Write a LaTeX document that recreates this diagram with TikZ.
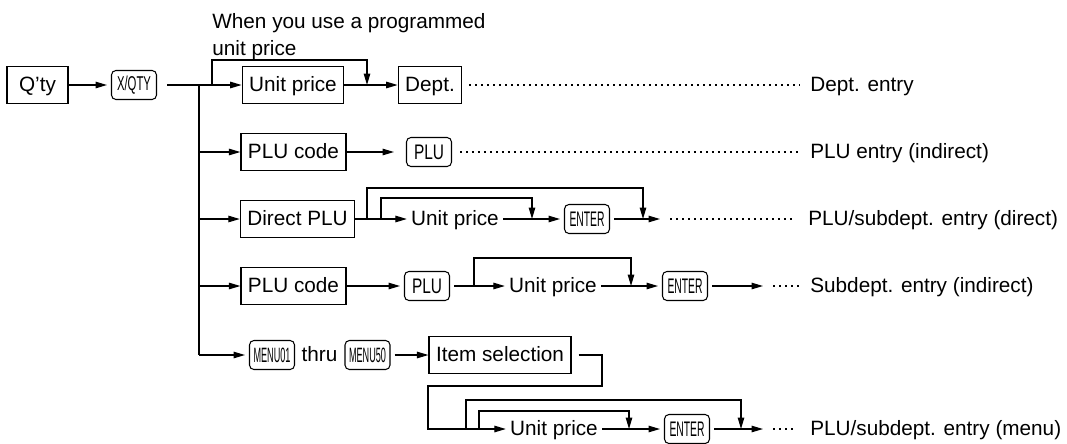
\documentclass[tikz,border=0pt]{standalone}
\usepackage{fontspec}
\setmainfont{Liberation Sans}
\usetikzlibrary{arrows.meta}
\newcommand{\keytext}[2][0.68cm]{\resizebox{#1}{0.29cm}{#2}}
\tikzset{
  box/.style={draw, line width=0.7pt, minimum height=0.74cm, inner xsep=0.14cm, text height=0.72em, text depth=0pt},
  keycap/.style={draw, line width=0.6pt, rounded corners=2.5pt, minimum width=0.9cm, minimum height=0.58cm, inner sep=1pt, outer sep=0.09cm},
  plain/.style={inner sep=0.08cm, text height=0.72em, text depth=0pt},
  result/.style={anchor=west, inner sep=0pt, text height=0.72em, text depth=0pt},
  note/.style={align=left, inner sep=0pt},
  link/.style={line width=0.7pt},
  flow/.style={line width=0.7pt, -{Triangle[length=0.23cm,width=0.13cm]}},
  dots/.style={line width=0.8pt, dash pattern=on 1.1pt off 2.314pt}
}

\begin{document}
\begin{tikzpicture}[x=0.02cm, y=-0.02cm, font=\fontsize{11.8}{15.4}\selectfont]
    \useasboundingbox (0,0) rectangle (1067,443);

    \node[note, anchor=north west] (when) at (212,13) {When you use a programmed\\unit price};

    \node[box, minimum width=1.22cm] (qty) at (37.5,85) {Q’ty};
    \node[keycap] (xqty) at (134,85) {\keytext{X/QTY}};
    \node[box] (uprice1) at (293,85) {Unit price};
    \node[box] (dept) at (430,85) {Dept.};
    \node[result] (res1) at (810,85) {Dept. entry};

    \node[box] (plucode2) at (293.5,152) {PLU code};
    \node[keycap] (plu2) at (429,152) {\keytext[0.6cm]{PLU}};
    \node[result] (res2) at (810,152) {PLU entry (indirect)};

    \node[box] (direct3) at (297.5,219) {Direct PLU};
    \node[plain] (uprice3) at (455,219) {Unit price};
    \node[keycap] (enter3) at (587,219) {\keytext[0.7cm]{ENTER}};
    \coordinate (end3) at (660,219);
    \node[result] (res3) at (808,219) {PLU/subdept. entry (direct)};

    \node[box] (plucode4) at (293.5,286) {PLU code};
    \node[keycap] (plu4) at (427,286) {\keytext[0.6cm]{PLU}};
    \node[plain] (uprice4) at (553,286) {Unit price};
    \node[keycap] (enter4) at (685,286) {\keytext[0.7cm]{ENTER}};
    \coordinate (end4) at (763,286);
    \node[result] (res4) at (810,286) {Subdept. entry (indirect)};

    \node[keycap] (menu01) at (272,355) {\keytext[0.74cm]{MENU01}};
    \node[plain] (thru) at (319.5,355) {thru};
    \node[keycap] (menu50) at (367.5,355) {\keytext[0.74cm]{MENU50}};
    \node[box] (item) at (500,355) {Item selection};

    \node[plain] (uprice6) at (554,429) {Unit price};
    \node[keycap] (enter6) at (687,429) {\keytext[0.7cm]{ENTER}};
    \coordinate (end6) at (763,429);
    \node[result] (res6) at (810,429) {PLU/subdept. entry (menu)};

    \coordinate (trunktop) at (199,85);
    \coordinate (trunkbot) at (199,355);

    \draw[flow] (qty) -- (xqty);
    \draw[flow, shorten <=0.13cm] (xqty) -- (uprice1);
    \draw[flow] (uprice1) -- (dept);
    \draw[flow] (212,85) -- (212,60) -- (367,60) -- (367,85);
    \draw[dots, shorten <=0.14cm, shorten >=0.2cm] (dept) -- (res1);

    \draw[link] (trunktop) -- (trunkbot);
    \draw[flow] (trunktop |- plucode2) -- (plucode2);
    \draw[flow] (trunktop |- direct3) -- (direct3);
    \draw[flow] (trunktop |- plucode4) -- (plucode4);
    \draw[flow] (trunkbot) -- (menu01);

    \draw[flow, shorten >=0.16cm] (plucode2) -- (plu2);
    \draw[dots, shorten <=0.08cm, shorten >=0.2cm] (plu2) -- (res2);

    \draw[flow] (direct3) -- (uprice3);
    \draw[flow] (367,219) -- (367,188) -- (643,188) -- (643,219);
    \draw[flow] (381,219) -- (381,198) -- (532,198) -- (532,219);
    \draw[flow] (uprice3) -- (enter3);
    \draw[flow] (enter3) -- (end3);
    \draw[dots, shorten <=0.2cm, shorten >=0.3cm] (end3) -- (res3);

    \draw[flow] (plucode4) -- (plu4);
    \draw[flow] (plu4) -- (uprice4);
    \draw[flow] (474,286) -- (474,258) -- (631,258) -- (631,286);
    \draw[flow] (uprice4) -- (enter4);
    \draw[flow] (enter4) -- (end4);
    \draw[dots, shorten <=0.2cm, shorten >=0.2cm] (end4) -- (res4);

    \draw[flow] (menu50) -- (item);
    \draw[flow, shorten <=0.14cm] (item.east) -- (602,355) -- (602,386) -- (428,386) -- (428,429) -- (uprice6);
    \draw[flow] (466,429) -- (466,400) -- (741,400) -- (741,429);
    \draw[flow] (479,429) -- (479,411) -- (629,411) -- (629,429);
    \draw[flow] (uprice6) -- (enter6);
    \draw[flow] (enter6) -- (end6);
    \draw[dots, shorten <=0.2cm, shorten >=0.3cm] (end6) -- (res6);
\end{tikzpicture}
\end{document}
